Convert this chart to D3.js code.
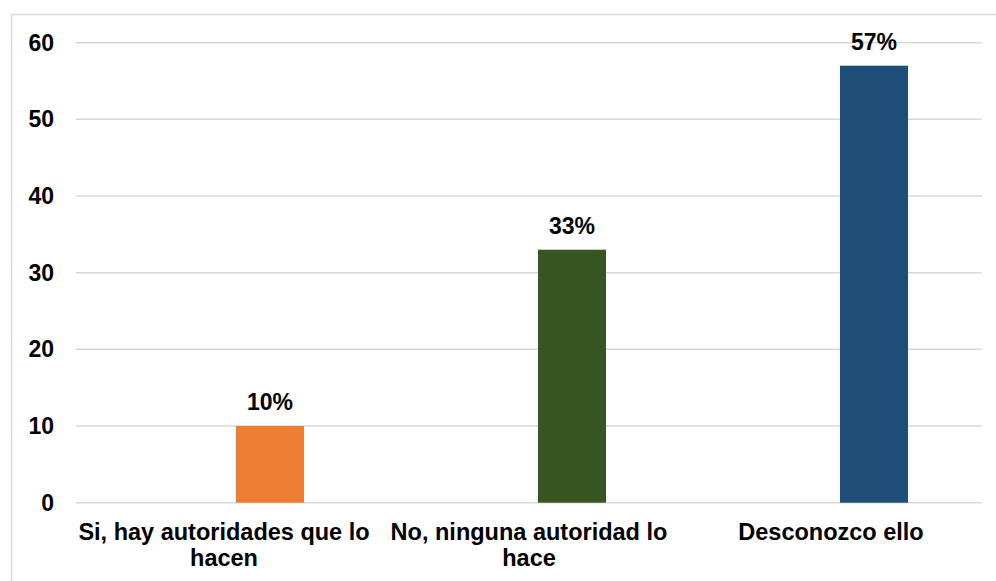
<!DOCTYPE html>
<html>
<head>
<meta charset="utf-8">
<script src="https://cdn.jsdelivr.net/npm/d3@7"></script>
<style>
  html, body { margin: 0; padding: 0; background: #fff; }
  svg { display: block; }
  text { font-family: "Liberation Sans", Arial, sans-serif; font-weight: bold; fill: #000; }
</style>
</head>
<body>
<script>
const categories = ["Si, hay autoridades que lo hacen", "No, ninguna autoridad lo hace", "Desconozco ello"];
const values = [10, 33, 57];
const valueLabels = ["10%", "33%", "57%"];
const barColors = ["#ED7D31", "#375623", "#1F4E79"];
const yTicks = [0, 10, 20, 30, 40, 50, 60];

const W = 996, H = 581;
const plot = { left: 76, right: 982, top: 42.7, bottom: 502.7 };
const fontSize = 23;
const catFontSize = 23.5;
const barWidth = 68, barOffset = 43;

const svg = d3.select("body").append("svg").attr("width", W).attr("height", H);

// outer chart border
svg.append("rect")
  .attr("x", 11.5).attr("y", 14.5)
  .attr("width", W + 20).attr("height", H + 20)
  .attr("fill", "none").attr("stroke", "#d9d9d9").attr("stroke-width", 1.5);

const x = d3.scaleBand().domain(categories).range([plot.left, plot.right]).paddingInner(0).paddingOuter(0);
const y = d3.scaleLinear().domain([0, 60]).range([plot.bottom, plot.top]);

// gridlines
svg.append("g").selectAll("line").data(yTicks).join("line")
  .attr("x1", plot.left).attr("x2", plot.right)
  .attr("y1", d => y(d)).attr("y2", d => y(d))
  .attr("stroke", "#d9d9d9").attr("stroke-width", 1.5);

// y axis
const yAxis = svg.append("g")
  .attr("transform", `translate(${plot.left},0)`)
  .call(d3.axisLeft(y).tickValues(yTicks).tickSize(0).tickPadding(22));
yAxis.select(".domain").remove();
yAxis.selectAll("text").attr("font-size", fontSize).style("font-family", '"Liberation Sans", Arial, sans-serif').style("font-weight", "bold").attr("fill", "#000");

// bars
const data = categories.map((c, i) => ({ c, v: values[i], label: valueLabels[i], color: barColors[i] }));
const barX = d => x(d.c) + x.bandwidth() / 2 + barOffset - barWidth / 2;

svg.append("g").selectAll("rect").data(data).join("rect")
  .attr("x", barX)
  .attr("y", d => y(d.v))
  .attr("width", barWidth)
  .attr("height", d => y(0) - y(d.v))
  .attr("fill", d => d.color);

// value labels
svg.append("g").selectAll("text").data(data).join("text")
  .attr("x", d => barX(d) + barWidth / 2)
  .attr("y", d => y(d.v) - 16)
  .attr("text-anchor", "middle")
  .attr("font-size", fontSize)
  .text(d => d.label);

// category labels with wrapping
const maxWidth = x.bandwidth() - 4;
const catG = svg.append("g");
categories.forEach((c, i) => {
  const cx = x(c) + x.bandwidth() / 2 - (i === 0 ? 3 : 0);
  const t = catG.append("text")
    .attr("x", cx)
    .attr("y", 540)
    .attr("text-anchor", "middle")
    .attr("font-size", catFontSize);
  const words = c.split(" ");
  let line = [];
  let tspan = t.append("tspan").attr("x", cx).attr("dy", 0);
  words.forEach(w => {
    line.push(w);
    tspan.text(line.join(" "));
    if (tspan.node().getComputedTextLength() > maxWidth && line.length > 1) {
      line.pop();
      tspan.text(line.join(" "));
      line = [w];
      tspan = t.append("tspan").attr("x", cx).attr("dy", 26).text(w);
    }
  });
});
</script>
</body>
</html>
